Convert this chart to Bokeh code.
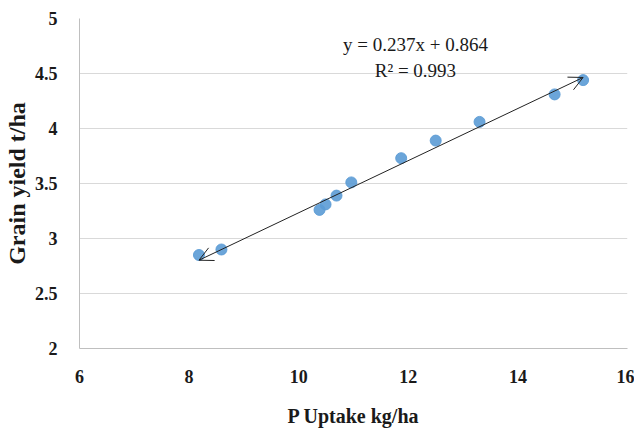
from bokeh.plotting import figure
from bokeh.models import Range1d, FixedTicker, Arrow, OpenHead, Label, ColumnDataSource
from bokeh.embed import file_html
from bokeh.resources import INLINE

p_uptake = [8.18, 8.59, 10.38, 10.49, 10.69, 10.96, 11.87, 12.50, 13.30, 14.67, 15.19]
grain_yield = [2.85, 2.90, 3.26, 3.31, 3.39, 3.51, 3.73, 3.89, 4.06, 4.31, 4.44]
slope = 0.237
intercept = 0.864
r2 = 0.993
x_ticks = [6, 8, 10, 12, 14, 16]
y_ticks = [2, 2.5, 3, 3.5, 4, 4.5, 5]

SERIF = "Liberation Serif"

p = figure(width=634, height=431, output_backend="svg", toolbar_location=None,
           x_range=Range1d(6, 16), y_range=Range1d(2, 5),
           min_border_left=79, min_border_right=7, min_border_top=18, min_border_bottom=83)
p.outline_line_color = None
p.background_fill_color = "white"

p.xgrid.grid_line_color = None
p.ygrid.grid_line_color = "#d9d9d9"
p.ygrid.grid_line_width = 1

for ax in (p.xaxis[0], p.yaxis[0]):
    ax.axis_line_color = "#bfbfbf"
    ax.major_tick_line_color = None
    ax.minor_tick_line_color = None
    ax.major_label_text_font = SERIF
    ax.major_label_text_font_style = "bold"
    ax.major_label_text_font_size = "18px"
    ax.major_label_text_color = "#1a1a1a"
    ax.axis_label_text_font = SERIF
    ax.axis_label_text_font_style = "bold"
    ax.axis_label_text_color = "#1a1a1a"

p.xaxis.axis_label_text_font_size = "20px"
p.yaxis.axis_label_text_font_size = "24px"
p.xaxis.ticker = FixedTicker(ticks=x_ticks)
p.yaxis.ticker = FixedTicker(ticks=y_ticks)
p.xaxis.major_label_standoff = 15
p.yaxis.major_label_standoff = 16
p.xaxis.axis_label = "P Uptake kg/ha"
p.yaxis.axis_label = "Grain yield t/ha"
p.xaxis.axis_label_standoff = 19
p.yaxis.axis_label_standoff = 2

src = ColumnDataSource(dict(x=p_uptake, y=grain_yield))
p.scatter("x", "y", source=src, size=11, fill_color="#5b9bd5", line_color="#5b9bd5", alpha=0.9)

x0 = min(p_uptake)
x1 = max(p_uptake)
p.add_layout(Arrow(start=OpenHead(size=14, line_color="#222222", line_width=1),
                   end=OpenHead(size=14, line_color="#222222", line_width=1),
                   x_start=x0, y_start=slope * x0 + intercept,
                   x_end=x1, y_end=slope * x1 + intercept,
                   line_color="#222222", line_width=1))

p.add_layout(Label(x=12.13, y=4.76, text=f"y = {slope}x + {intercept}",
                   text_font=SERIF, text_font_size="19px", text_align="center",
                   text_baseline="middle", text_color="#1a1a1a"))
p.add_layout(Label(x=12.13, y=4.53, text=f"R² = {r2}",
                   text_font=SERIF, text_font_size="19px", text_align="center",
                   text_baseline="middle", text_color="#1a1a1a"))

open("out.html", "w").write(file_html(p, INLINE))
